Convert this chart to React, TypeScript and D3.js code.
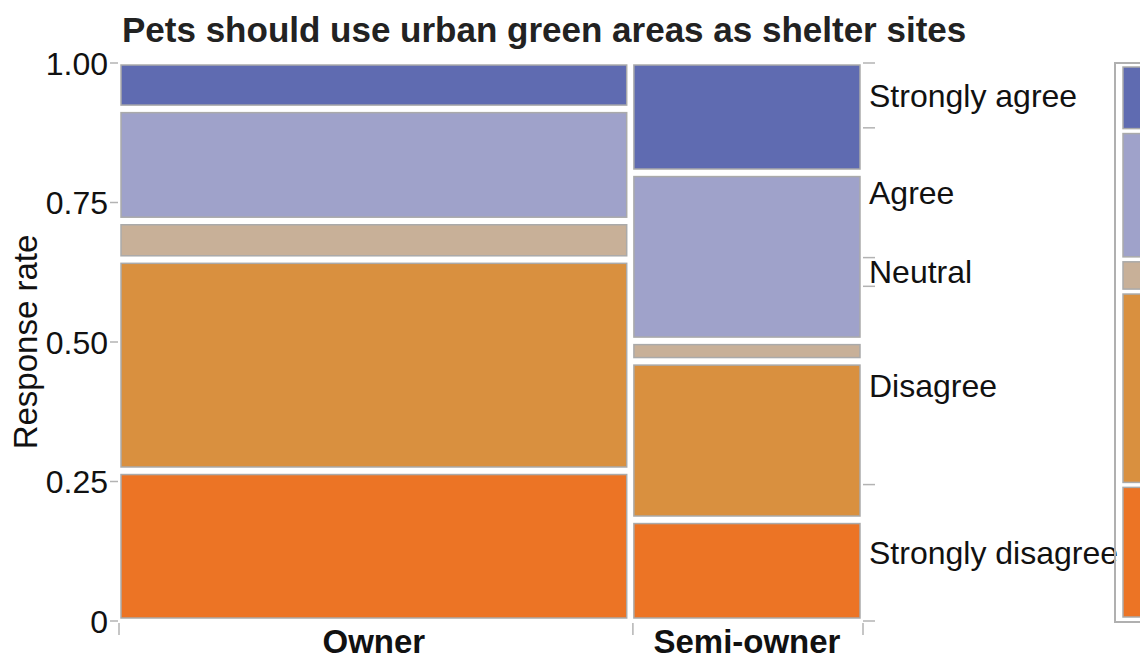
import React from "react";
import * as d3 from "d3";

const categories = ["Owner", "Semi-owner"];
const columnWeights = [0.69, 0.31];
const responses = ["Strongly agree", "Agree", "Neutral", "Disagree", "Strongly disagree"];
const ownerRates = [0.079, 0.2, 0.062, 0.386, 0.273];
const semiOwnerRates = [0.199, 0.305, 0.028, 0.287, 0.181];
const yTicks = [0, 0.25, 0.5, 0.75, 1];
const yTickLabels = ["0", "0.25", "0.50", "0.75", "1.00"];
const colors = ["#5f6bb1", "#9fa2ca", "#c8b098", "#d9903f", "#ec7425"];

const W = 1140;
const H = 659;
const FONT = "'Liberation Sans', Arial, Helvetica, sans-serif";

type Tile = { key: string; y0: number; y1: number; color: string };

function stackColumn(rates: number[], gap: number): Tile[] {
  const total = d3.sum(rates);
  const avail = 1 - gap * (rates.length - 1);
  const tiles: Tile[] = [];
  let cur = 0;
  for (let i = rates.length - 1; i >= 0; i--) {
    const h = (rates[i] / total) * avail;
    tiles.push({ key: responses[i], y0: cur, y1: cur + h, color: colors[i] });
    cur += h + gap;
  }
  return tiles;
}

export default function App() {
  const y = d3.scaleLinear().domain([0, 1]).range([621, 63]);
  const tileY = d3.scaleLinear().domain([0, 1]).range([619, 64]);
  const x = d3.scaleLinear().domain([0, 1]).range([120, 861]);
  const xGap = 0.007;
  const yGap = 0.01;
  const rateSets = [ownerRates, semiOwnerRates];

  const wTotal = d3.sum(columnWeights);
  const colAvail = 1 - xGap * (categories.length - 1);
  const cols: { name: string; x0: number; x1: number; tiles: Tile[] }[] = [];
  let cx = 0;
  categories.forEach((c, i) => {
    const w = (columnWeights[i] / wTotal) * colAvail;
    cols.push({ name: c, x0: cx, x1: cx + w, tiles: stackColumn(rateSets[i], yGap) });
    cx += w + xGap;
  });

  const marginal = responses.map((_, r) =>
    d3.sum(categories.map((__, i) => (columnWeights[i] / wTotal) * (rateSets[i][r] / d3.sum(rateSets[i]))))
  );
  const bounds: number[] = [1];
  let acc = 1;
  marginal.forEach((m) => {
    acc -= m;
    bounds.push(Math.max(0, acc));
  });

  const legendY = d3.scaleLinear().domain([0, 1]).range([617, 67]);
  const legendTiles = stackColumn(marginal, 0.009);

  const tickColor = "#b3b3b3";
  const tileStroke = "#aaaaaa";
  const axisFont = 32;

  return (
    <svg width={W} height={H} style={{ position: "absolute", left: 0, top: 0, background: "#fff" }}>
      <rect x={0} y={0} width={W} height={H} fill="#fff" />
      <text x={122} y={42} fontFamily={FONT} fontWeight="bold" fontSize={35} fill="#222">
        Pets should use urban green areas as shelter sites
      </text>

      {cols.map((c) =>
        c.tiles.map((t) => (
          <rect
            key={c.name + t.key}
            x={x(c.x0) + 1}
            y={tileY(t.y1) + 1}
            width={x(c.x1) - x(c.x0) - 2}
            height={tileY(t.y0) - tileY(t.y1) - 2}
            fill={t.color}
            stroke={tileStroke}
            strokeWidth={1.5}
          />
        ))
      )}

      {yTicks.map((v, i) => (
        <g key={"yt" + i}>
          <line x1={110} x2={118} y1={y(v)} y2={y(v)} stroke={tickColor} strokeWidth={1.5} />
          <text
            x={108}
            y={y(v)}
            dy="0.36em"
            textAnchor="end"
            fontFamily={FONT}
            fontSize={axisFont}
            fill="#111"
          >
            {yTickLabels[i]}
          </text>
        </g>
      ))}
      <text
        transform={`translate(37, ${y(0.5)}) rotate(-90)`}
        textAnchor="middle"
        fontFamily={FONT}
        fontSize={33}
        fill="#111"
      >
        Response rate
      </text>

      {[0, ...cols.map((c) => c.x1)].map((v, i) => {
        const px = i === 0 ? x(0) - 1 : i === 1 ? x(cols[1].x0) : x(v) + 2;
        return <line key={"xt" + i} x1={px} x2={px} y1={623} y2={635} stroke={tickColor} strokeWidth={1.5} />;
      })}
      {cols.map((c) => (
        <text
          key={"xl" + c.name}
          x={(x(c.x0) + x(c.x1)) / 2}
          y={653}
          textAnchor="middle"
          fontFamily={FONT}
          fontWeight="bold"
          fontSize={33}
          fill="#111"
        >
          {c.name}
        </text>
      ))}

      {bounds.map((b, i) => (
        <line key={"rt" + i} x1={863} x2={875} y1={y(b)} y2={y(b)} stroke={tickColor} strokeWidth={1.5} />
      ))}
      {responses.map((r, i) => (
        <text
          key={"rl" + r}
          x={869}
          y={y((bounds[i] + bounds[i + 1]) / 2)}
          dy="0.36em"
          fontFamily={FONT}
          fontSize={axisFont}
          fill="#111"
        >
          {r}
        </text>
      ))}

      <rect x={1115} y={63} width={60} height={559} fill="none" stroke="#b0b0b0" strokeWidth={2} />
      {legendTiles.map((t) => (
        <rect
          key={"lg" + t.key}
          x={1123}
          y={legendY(t.y1)}
          width={40}
          height={legendY(t.y0) - legendY(t.y1)}
          fill={t.color}
          stroke={tileStroke}
          strokeWidth={1.5}
        />
      ))}
    </svg>
  );
}
